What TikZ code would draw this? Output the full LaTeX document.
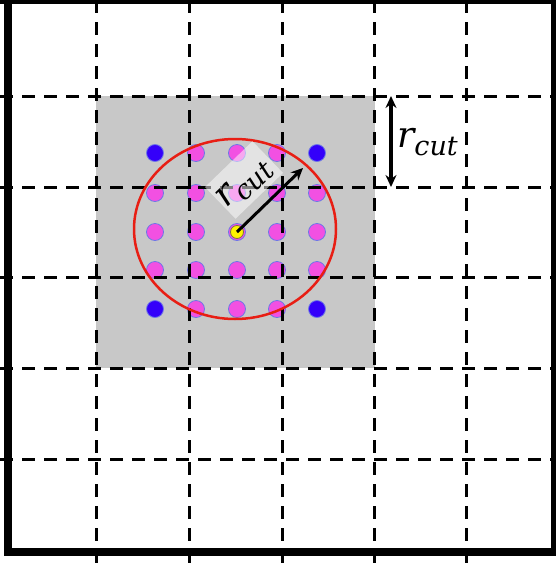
\documentclass[tikz,border=0pt]{standalone}
\usepackage{fontspec}
\newfontfamily\lblfont{DejaVu Serif}
\usetikzlibrary{arrows.meta}
\definecolor{boxgray}{RGB}{200,200,200}
\definecolor{dotpink}{RGB}{242,80,226}
\definecolor{dotblue}{RGB}{52,0,250}
\definecolor{dotrim}{RGB}{110,120,230}
\definecolor{ringred}{RGB}{232,30,20}
\newcommand{\rcutlabel}{{\lblfont\itshape\fontsize{36}{40}\selectfont r}\raisebox{-8pt}{\lblfont\itshape\fontsize{27}{30}\selectfont cut}}
\begin{document}
\begin{tikzpicture}[x=1pt,y=-1pt,
  gridline/.style={black,line width=3pt,dash pattern=on 13pt off 9pt},
  pinkdot/.style={circle,inner sep=0pt,minimum size=17pt,fill=dotpink,draw=dotrim,line width=0.8pt},
  bluedot/.style={circle,inner sep=0pt,minimum size=17pt,fill=dotblue,draw=dotrim,line width=0.8pt},
  centerdot/.style={circle,inner sep=0pt,minimum size=13pt,fill=yellow,draw=black!60!yellow,line width=0.8pt},
  lbl/.style={inner sep=0pt}]
\useasboundingbox (0,0) rectangle (556,563);
\clip (0,0) rectangle (556,563);
\fill[white] (0,0) rectangle (556,563);
% gray neighbourhood
\fill[boxgray] (96,96) rectangle (375,368);
% dots
\foreach \i/\x in {1/155,2/196,3/237,4/277,5/317}{
  \foreach \j/\y in {1/153,2/193,3/232,4/270,5/309}{
    \pgfmathparse{int((\i==1||\i==5)&&(\j==1||\j==5))}
    \ifnum\pgfmathresult=1
      \node[bluedot] (d\i\j) at (\x,\y) {};
    \else
      \node[pinkdot] (d\i\j) at (\x,\y) {};
    \fi
  }
}
\node[centerdot] (c) at (237,232) {};
% grid
\foreach \x in {96,189,282,374,466}{\draw[gridline] (\x,0) -- (\x,563);}
\foreach \y in {96,187,277,368,459}{\draw[gridline] (0,\y) -- (556,\y);}
% frame
\draw[black,line width=8pt] (8,0) -- (8,552) -- (556,552);
\draw[black,line width=8pt] (0,0) -- (556,0);
\draw[black,line width=5pt] (553.5,0) -- (553.5,552);
% cutoff ring
\draw[ringred,line width=2.5pt] (235,229) ellipse [x radius=101, y radius=90];
% translucent label box
\node[fill=white,opacity=0.5,rotate=44,minimum width=66pt,minimum height=44pt,inner sep=0pt] (lb) at (244,180) {};
% radius arrow
\coordinate (rim) at (303,168);
\draw[black,line width=3pt,-{Stealth[length=12pt,width=11pt]}] (c.center) -- (rim);
\node[lbl,rotate=44] (rl) at (245,184) {\rcutlabel};
% cell size arrow
\coordinate (ct) at (391,96);
\coordinate (cb) at (391,187);
\draw[black,line width=3.5pt,{Stealth[length=12pt,width=11pt]}-{Stealth[length=12pt,width=11pt]}] (ct) -- (cb);
\node[lbl,anchor=west] (rt) at (397,142) {\rcutlabel};
\end{tikzpicture}
\end{document}
